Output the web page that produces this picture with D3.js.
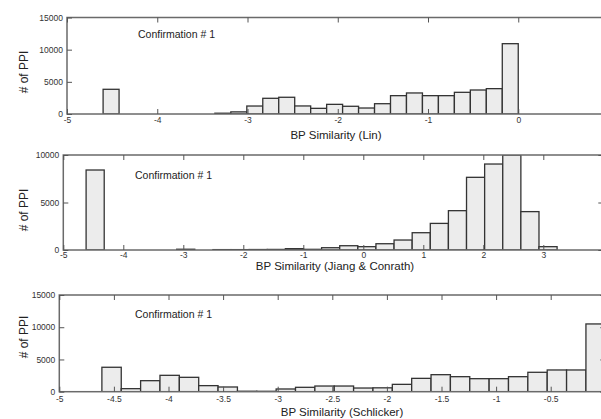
<!DOCTYPE html>
<html><head><meta charset="utf-8">
<script src="https://cdn.jsdelivr.net/npm/d3@7"></script>
<style>
body{margin:0;background:#fff}
svg{display:block}
text{font-family:Arial,"Liberation Sans",sans-serif}
</style>
</head><body>
<svg id="chart" width="601" height="419"></svg>
<script>
// ---- Data ----
const linBinRange = [-4.6, 0];
const linCounts = [3840, 0, 0, 0, 0, 0, 0, 120, 330, 1240, 2440, 2600, 1250, 880, 1500, 1200, 930, 1600, 2850, 3270, 2850, 2850, 3370, 3730, 3940, 10930];
const linXTicks = [-5, -4, -3, -2, -1, 0];
const linYTicks = [0, 5000, 10000, 15000];

const jcBinRange = [-4.62, 3.23];
const jcCounts = [8420, 0, 0, 0, 0, 80, 0, 40, 40, 50, 60, 140, 70, 240, 450, 350, 660, 1050, 1820, 2800, 4140, 7650, 9050, 10000, 4040, 350];
const jcXTicks = [-5, -4, -3, -2, -1, 0, 1, 2, 3];
const jcYTicks = [0, 5000, 10000];

const schBinRange = [-4.61, 0];
const schCounts = [3790, 470, 1710, 2540, 2230, 940, 730, 70, 60, 420, 680, 880, 880, 570, 600, 1140, 2070, 2640, 2330, 2020, 2020, 2330, 3010, 3370, 3370, 10510];
const schXTicks = [-5, -4.5, -4, -3.5, -3, -2.5, -2, -1.5, -1, -0.5];
const schYTicks = [0, 5000, 10000, 15000];

const xTitles = ["BP Similarity (Lin)", "BP Similarity (Jiang & Conrath)", "BP Similarity (Schlicker)"];
const yTitle = "# of PPI";
const panelNote = "Confirmation # 1";

// ---- Layout ----
const panels = [
  {counts: linCounts, range: linBinRange, xTicks: linXTicks, yTicks: linYTicks, xDom: [-5, 1], yMax: 15000,
   left: 67, right: 608.5, top: 17.5, bottom: 114, pad: 3, titleX: 336, titleY: 139, noteX: 138, noteY: 38, yLabY: 72},
  {counts: jcCounts, range: jcBinRange, xTicks: jcXTicks, yTicks: jcYTicks, xDom: [-5, 4], yMax: 10000,
   left: 63.3, right: 603.3, top: 155, bottom: 250, pad: 2, titleX: 335, titleY: 270, noteX: 135, noteY: 179, yLabY: 210},
  {counts: schCounts, range: schBinRange, xTicks: schXTicks, yTicks: schYTicks, xDom: [-5, 0], yMax: 15000,
   left: 59.3, right: 605.3, top: 295, bottom: 391.7, pad: 4.5, titleX: 342, titleY: 415.5, noteX: 135, noteY: 317.5, yLabY: 337}
];

const svg = d3.select("#chart");
const fmt = d => String(d);

panels.forEach((p, i) => {
  const x = d3.scaleLinear().domain(p.xDom).range([p.left, p.right]);
  const y = d3.scaleLinear().domain([0, p.yMax]).range([p.bottom, p.top]);
  const n = p.counts.length;
  const w = (p.range[1] - p.range[0]) / n;
  const bins = p.counts.map((c, k) => ({x0: p.range[0] + k * w, x1: p.range[0] + (k + 1) * w, c}));

  const clipId = "clip" + i;
  svg.append("clipPath").attr("id", clipId).append("rect")
    .attr("x", p.left).attr("y", p.top).attr("width", p.right - p.left).attr("height", p.bottom - p.top);

  const g = svg.append("g");
  g.append("g").attr("clip-path", `url(#${clipId})`)
    .selectAll("rect").data(bins.filter(b => b.c > 0)).join("rect")
    .attr("x", b => x(b.x0)).attr("width", b => x(b.x1) - x(b.x0))
    .attr("y", b => y(b.c)).attr("height", b => y(0) - y(b.c))
    .attr("fill", "#ececec").attr("stroke", "#333").attr("stroke-width", 1.3);

  // frame
  g.append("rect").attr("x", p.left).attr("y", p.top)
    .attr("width", p.right - p.left).attr("height", p.bottom - p.top)
    .attr("fill", "none").attr("stroke", "#6a6a6a").attr("stroke-width", 1.5);

  const styleAxis = sel => {
    sel.select(".domain").remove();
    sel.selectAll(".tick line").attr("stroke", "#555").attr("stroke-width", 1);
    sel.selectAll(".tick text").attr("fill", "#333").attr("font-size", "8.5px").attr("font-family", "Arial, 'Liberation Sans', sans-serif");
  };

  g.append("g").attr("transform", `translate(0,${p.bottom})`)
    .call(d3.axisBottom(x).tickValues(p.xTicks).tickFormat(fmt).tickSizeInner(-5).tickSizeOuter(0).tickPadding(p.pad))
    .call(styleAxis);
  g.append("g").attr("transform", `translate(0,${p.top})`)
    .call(d3.axisTop(x).tickValues(p.xTicks).tickFormat("").tickSizeInner(-5).tickSizeOuter(0))
    .call(styleAxis);
  g.append("g").attr("transform", `translate(${p.left},0)`)
    .call(d3.axisLeft(y).tickValues(p.yTicks).tickFormat(fmt).tickSizeInner(-5).tickSizeOuter(0).tickPadding(4))
    .call(styleAxis);
  g.append("g").attr("transform", `translate(${p.right},0)`)
    .call(d3.axisRight(y).tickValues(p.yTicks).tickFormat("").tickSizeInner(-5).tickSizeOuter(0))
    .call(styleAxis);

  g.append("text").attr("x", p.titleX).attr("y", p.titleY).attr("text-anchor", "middle")
    .attr("font-size", "11.5px").attr("fill", "#222").text(xTitles[i]);
  g.append("text").attr("transform", `translate(28,${p.yLabY}) rotate(-90)`).attr("text-anchor", "middle")
    .attr("font-size", "12px").attr("fill", "#222").text(yTitle);
  g.append("text").attr("x", p.noteX).attr("y", p.noteY)
    .attr("font-size", "10.5px").attr("fill", "#222").text(panelNote);
});
</script>
</body></html>
